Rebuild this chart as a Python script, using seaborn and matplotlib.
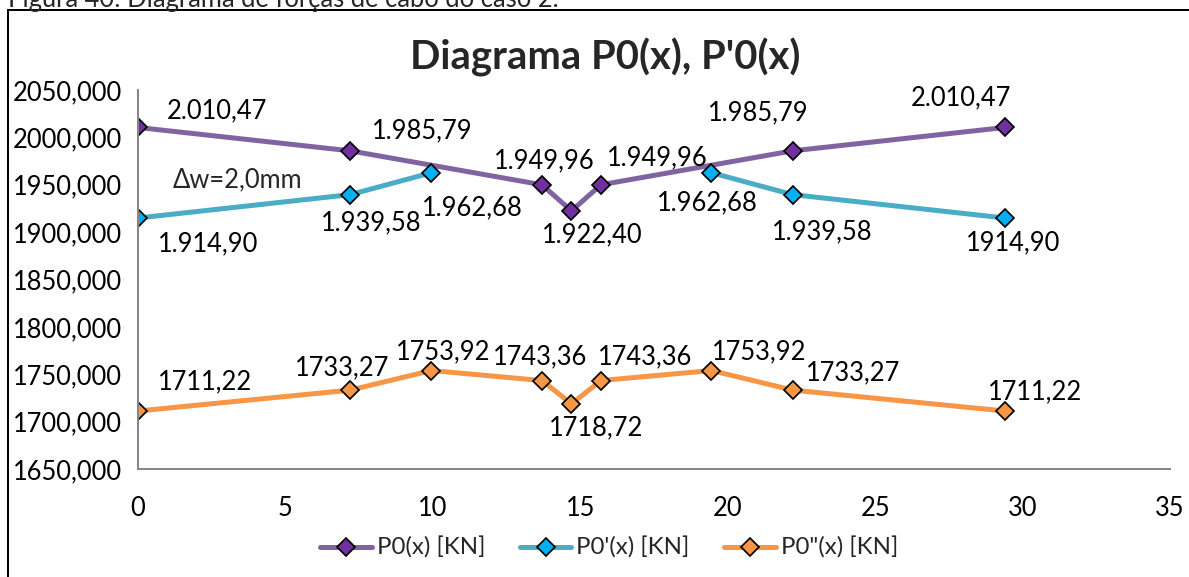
import pandas as pd
import matplotlib
matplotlib.use('Agg')
import matplotlib.pyplot as plt
import seaborn as sns
from matplotlib.lines import Line2D
from matplotlib.ticker import FuncFormatter

# data
x_p0 = [0, 7.2, 13.7, 14.7, 15.7, 22.2, 29.4]
p0 = [2010.47, 1985.79, 1949.96, 1922.40, 1949.96, 1985.79, 2010.47]
p0_labels = ['2.010,47', '1.985,79', '1.949,96', '1.922,40', '1.949,96', '1.985,79', '2.010,47']

x_p0d = [0, 7.2, 9.95, 19.45, 22.2, 29.4]
p0d = [1914.90, 1939.58, 1962.68, 1962.68, 1939.58, 1914.90]
p0d_part = [0, 0, 0, 1, 1, 1]
p0d_labels = ['1.914,90', '1.939,58', '1.962,68', '1.962,68', '1.939,58', '1914,90']

x_p0dd = [0, 7.2, 9.95, 13.7, 14.7, 15.7, 19.45, 22.2, 29.4]
p0dd = [1711.22, 1733.27, 1753.92, 1743.36, 1718.72, 1743.36, 1753.92, 1733.27, 1711.22]
p0dd_labels = ['1711,22', '1733,27', '1753,92', '1743,36', '1718,72', '1743,36', '1753,92', '1733,27', '1711,22']

series_names = ['P0(x) [KN]', "P0'(x) [KN]", 'P0"(x) [KN]']
y_ticks = list(range(1650, 2051, 50))
x_ticks = list(range(0, 36, 5))

# label offsets in pixels (dx right, dy up)
p0_off = [(79, 17), (72, 20), (2, 24), (21, -24), (56, 27), (-34, 38), (-44, 30)]
p0d_off = [(70, -26), (21, -28), (41, -35), (-4, -30), (30, -37), (8, -25)]
p0dd_off = [(67, 29), (-8, 22), (12, 19), (-2, 24), (25, -24), (44, 24), (48, 19), (61, 17), (30, 19)]

line_colors = ['#8064A2', '#4BACC6', '#F79646']
marker_colors = ['#7030A0', '#00B0F0', '#F79646']

sns.set_style('white')
plt.rcParams['font.family'] = ['Lato', 'DejaVu Sans']

PX = 0.72  # points per pixel at dpi 100
FS = 25.5 * PX
LEG_FS = 24 * PX

frames = [
    pd.DataFrame({'x': x_p0, 'y': p0, 'series': series_names[0], 'part': 0}),
    pd.DataFrame({'x': x_p0d, 'y': p0d, 'series': series_names[1], 'part': p0d_part}),
    pd.DataFrame({'x': x_p0dd, 'y': p0dd, 'series': series_names[2], 'part': 0}),
]
df = pd.concat(frames, ignore_index=True)
df['unit'] = df['series'] + df['part'].astype(str)

fig = plt.figure(figsize=(11.89, 5.77), dpi=100)
ax = fig.add_axes([138 / 1189, 1 - 469 / 577, (1170 - 138) / 1189, (469 - 90) / 577])

for name, lc, mc in zip(series_names, line_colors, marker_colors):
    sub = df[df['series'] == name]
    sns.lineplot(data=sub, x='x', y='y', units='unit', estimator=None, sort=False,
                 color=lc, linewidth=5 * PX, marker='D', markersize=13 * PX,
                 markerfacecolor=mc, markeredgecolor='black', markeredgewidth=1.7 * PX,
                 legend=False, ax=ax)

for xs, ys, labs, offs in [(x_p0, p0, p0_labels, p0_off),
                           (x_p0d, p0d, p0d_labels, p0d_off),
                           (x_p0dd, p0dd, p0dd_labels, p0dd_off)]:
    for xv, yv, lab, (dx, dy) in zip(xs, ys, labs, offs):
        ax.annotate(lab, (xv, yv), xytext=(dx * PX, dy * PX), textcoords='offset points',
                    ha='center', va='center', fontsize=FS, color='black')

ax.set_xlim(0, 35)
ax.set_ylim(1650, 2050)
ax.set_xticks(x_ticks)
ax.set_yticks(y_ticks)
ax.yaxis.set_major_formatter(FuncFormatter(lambda v, p: f'{int(v)},000'))
ax.set_xlabel('')
ax.set_ylabel('')
ax.tick_params(axis='both', direction='out', length=9 * PX, width=2 * PX, color='#868686',
               labelsize=FS, labelcolor='black')
ax.tick_params(axis='x', pad=18 * PX)
ax.tick_params(axis='y', pad=7 * PX)
for side in ['top', 'right']:
    ax.spines[side].set_visible(False)
for side in ['left', 'bottom']:
    ax.spines[side].set_color('#868686')
    ax.spines[side].set_linewidth(2 * PX)
ax.set_facecolor('none')

fig.text(605 / 1189, 1 - 57 / 577, "Diagrama P0(x), P'0(x)", ha='center', va='center',
         fontsize=40 * PX, fontweight='bold')
fig.text(237 / 1189, 1 - 180 / 577, 'Δw=2,0mm', ha='center', va='center', fontsize=FS)

# caption cut off at the top of the picture
fig.text(8 / 1189, 1 + 1 / 577, 'Figura 40: Diagrama de forças de cabo do caso 2.',
         ha='left', va='center', fontsize=FS)

# chart frame
fig.add_artist(Line2D([8 / 1189, 1], [1 - 10 / 577, 1 - 10 / 577], color='black', lw=2 * PX))
fig.add_artist(Line2D([8 / 1189, 8 / 1189], [0, 1 - 10 / 577], color='black', lw=2 * PX))

handles = [Line2D([], [], color=lc, lw=5 * PX, marker='D', markersize=13 * PX,
                  markerfacecolor=mc, markeredgecolor='black', markeredgewidth=1.7 * PX)
           for lc, mc in zip(line_colors, marker_colors)]
fig.legend(handles, series_names, loc='center', bbox_to_anchor=(609 / 1189, 1 - 548 / 577),
           ncol=3, frameon=False, fontsize=LEG_FS, handlelength=2.15, handletextpad=0.2,
           columnspacing=1.45)

fig.savefig('out.png', dpi=100)
